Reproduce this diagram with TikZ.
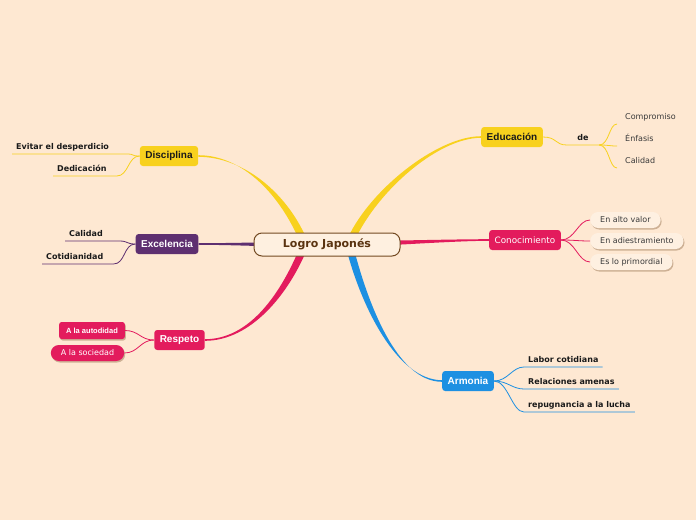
\documentclass[tikz,border=0pt]{standalone}
\usepackage{fontspec}
\setmainfont{DejaVu Sans}
\newfontfamily\arialf{Liberation Sans}
\usetikzlibrary{calc,backgrounds,shadows}
\definecolor{paper}{HTML}{FEE8D2}
\definecolor{hubfill}{HTML}{FEF0E0}
\definecolor{hubbrown}{HTML}{734A22}
\definecolor{hubtext}{HTML}{5A3310}
\definecolor{sun}{HTML}{F8D11E}
\definecolor{plum}{HTML}{5E2F70}
\definecolor{rose}{HTML}{E31B5D}
\definecolor{sky}{HTML}{1D90E2}
\definecolor{ink}{HTML}{1A1A1A}
\definecolor{inkgray}{HTML}{3A3A3A}
\definecolor{pillfill}{HTML}{FEF0E1}
% tapered main branch: colour, start, end, start handle, end handle, start/end half-width
\newcommand\branch[7]{%
  \fill[#1] ($(#2)+(#6)$) .. controls +(#4) and +(#5) .. ($(#3)+(#7)$)
    -- ($(#3)-(#7)$) .. controls +(#5) and +(#4) .. ($(#2)-(#6)$) -- cycle;}
\tikzset{
  hub/.style={draw=hubbrown, fill=hubfill, rounded corners=8pt, line width=1pt,
    minimum width=146pt, minimum height=23pt, inner sep=0pt,
    font=\bfseries\fontsize{11}{13}\selectfont, text=hubtext},
  topic/.style={rounded corners=3pt, minimum height=20pt, inner xsep=5.5pt, inner ysep=0pt,
    font=\arialf\bfseries\fontsize{10}{12}\selectfont, text=white},
  leaf/.style={inner xsep=4pt, inner ysep=2pt, text height=6pt, text depth=2pt,
    font=\bfseries\fontsize{8}{10}\selectfont, text=ink},
  subleaf/.style={leaf, inner xsep=8pt, font=\fontsize{8}{10}\selectfont, text=inkgray},
  pill/.style={rounded corners=8pt, minimum height=16pt, inner xsep=10pt, inner ysep=0pt,
    font=\fontsize{8}{10}\selectfont,
    drop shadow={shadow xshift=1pt, shadow yshift=-1.5pt, fill=hubbrown, opacity=0.35}},
  twig/.style={line width=0.8pt},
}
\begin{document}
\begin{tikzpicture}[x=1pt,y=-1pt]
  \begin{scope}[on background layer]
    \fill[paper] (0,0) rectangle (696,520);
  \end{scope}
  \useasboundingbox (0,0) rectangle (696,520);

  % centre
  \node[hub] (cen) at (327,244.5) {Logro Japonés};
  \coordinate (hubL) at ($(cen)+(-22,0)$);
  \coordinate (hubR) at ($(cen)+(22,0)$);

  % main topics
  \node[topic, fill=sun, text=ink] (disc) at (169,156) {Disciplina};
  \node[topic, fill=sun, text=ink] (edu) at (512,137) {Educación};
  \node[topic, fill=plum] (exc) at (167,244) {Excelencia};
  \node[topic, fill=rose, font=\fontsize{8.8}{11}\selectfont] (con) at (525,240) {Conocimiento};
  \node[topic, fill=rose] (resp) at (179.5,340) {Respeto};
  \node[topic, fill=sky] (arm) at (468,381) {Armonia};

  \begin{scope}[on background layer]
    \branch{sun}{hubL}{disc.east}{-20,-50}{45,0}{3.4,-1.4}{0,0.8}
    \branch{sun}{hubR}{edu.west}{20,-50}{-45,0}{3.4,1.4}{0,0.8}
    \branch{plum}{cen}{exc.east}{-40,0}{40,0}{0,3}{0,0.8}
    \branch{rose}{cen}{con.west}{40,0}{-40,0}{0,3}{0,0.8}
    \branch{rose}{hubL}{resp.east}{-20,50}{45,0}{3.4,1.4}{0,0.8}
    \branch{sky}{hubR}{arm.west}{15,60}{-45,0}{3.4,-1.4}{0,0.8}
  \end{scope}

  % Disciplina
  \node[leaf, anchor=south west] (evit) at (12,154) {Evitar el desperdicio};
  \node[leaf, anchor=south west] (ded) at (53,176) {Dedicación};
  \draw[twig, sun] (disc.west) .. controls +(-10,0) and +(10,0) .. ([xshift=13pt]evit.south east) -- (evit.south west);
  \draw[twig, sun] (disc.west) .. controls +(-12,0) and +(12,0) .. ([xshift=6pt]ded.south east) -- (ded.south west);

  % Excelencia
  \node[leaf, anchor=south west] (calid) at (65,241) {Calidad};
  \node[leaf, anchor=south west] (coti) at (42,264) {Cotidianidad};
  \draw[twig, plum] (exc.west) .. controls +(-10,0) and +(10,0) .. ([xshift=12pt]calid.south east) -- (calid.south west);
  \draw[twig, plum] (exc.west) .. controls +(-12,0) and +(12,0) .. ([xshift=6pt]coti.south east) -- (coti.south west);

  % Respeto
  \node[topic, fill=rose, rounded corners=2.5pt, minimum height=17pt, inner xsep=7pt,
    font=\arialf\bfseries\fontsize{7.5}{9}\selectfont,
    drop shadow={shadow xshift=1pt, shadow yshift=-1.5pt, fill=hubbrown, opacity=0.35}] (autod) at (92,330.5) {A la autodidad};
  \node[pill, fill=rose, text=white] (soc) at (87.5,353) {A la sociedad};
  \draw[twig, rose] (resp.west) .. controls +(-14,0) and +(14,0) .. (autod.east);
  \draw[twig, rose] (resp.west) .. controls +(-14,0) and +(14,0) .. (soc.east);

  % Educacion
  \node[leaf, minimum width=32pt, anchor=south] (de) at (583,145) {de};
  \node[subleaf, anchor=south west] (comp) at (617,124) {Compromiso};
  \node[subleaf, anchor=south west] (enf) at (617,146) {Énfasis};
  \node[subleaf, anchor=south west] (cal2) at (617,168) {Calidad};
  \draw[twig, sun] (edu.east) .. controls +(14,0) and +(-12,0) .. (de.south west) -- (de.south east);
  \foreach \n in {comp,enf,cal2}
    \draw[twig, sun] (de.south east) .. controls +(10,0) and +(-8,0) .. (\n.south west);

  % Conocimiento
  \node[pill, fill=pillfill, text=inkgray, anchor=west] (alto) at (590,220) {En alto valor};
  \node[pill, fill=pillfill, text=inkgray, anchor=west] (adie) at (590,241) {En adiestramiento};
  \node[pill, fill=pillfill, text=inkgray, anchor=west] (prim) at (590,262) {Es lo primordial};
  \foreach \n in {alto,adie,prim}
    \draw[twig, rose] (con.east) .. controls +(14,0) and +(-12,0) .. (\n.west);

  % Armonia
  \node[leaf, anchor=south west] (labor) at (524,367) {Labor cotidiana};
  \node[leaf, anchor=south west] (rel) at (524,389) {Relaciones amenas};
  \node[leaf, anchor=south west] (rep) at (524,412) {repugnancia a la lucha};
  \foreach \n in {labor,rel,rep}
    \draw[twig, sky] (arm.east) .. controls +(14,0) and +(-12,0) .. (\n.south west) -- (\n.south east);
\end{tikzpicture}
\end{document}
